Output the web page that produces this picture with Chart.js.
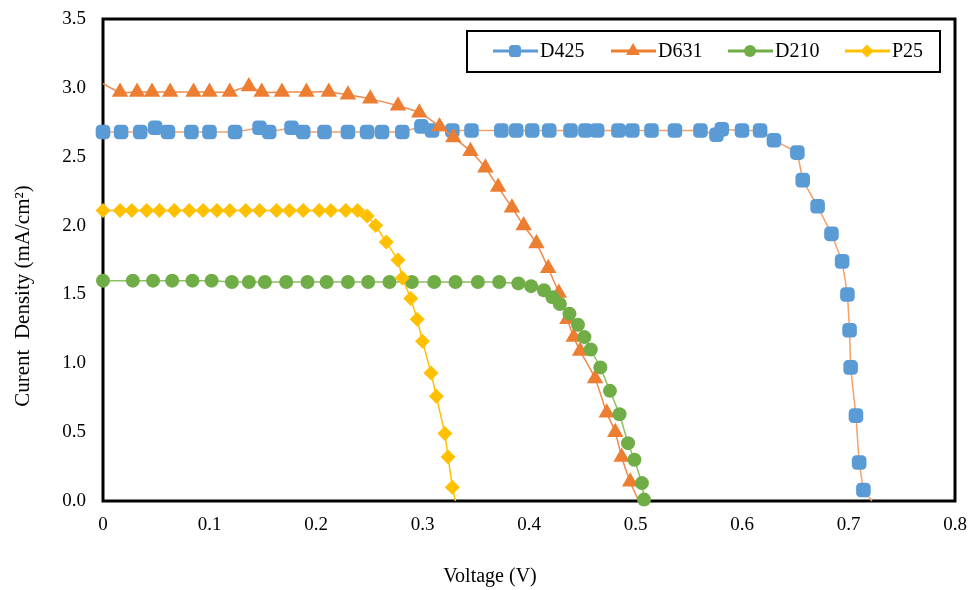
<!DOCTYPE html>
<html>
<head>
<meta charset="utf-8">
<script src="https://cdn.jsdelivr.net/npm/chart.js@4"></script>
<style>
  html, body { margin: 0; padding: 0; background: #fff; }
  #wrap { width: 968px; height: 590px; }
</style>
</head>
<body>
<div id="wrap"><canvas id="chart"></canvas></div>
<script>
// Series (x = voltage in V, y = current density in mA/cm2)
const d425X = [0, 0.017, 0.035, 0.049, 0.061, 0.083, 0.100, 0.124, 0.147, 0.156,
    0.177, 0.188, 0.208, 0.230, 0.248, 0.262, 0.281, 0.299, 0.309, 0.328,
    0.346, 0.374, 0.388, 0.403, 0.419, 0.439, 0.453, 0.464, 0.484, 0.497,
    0.515, 0.537, 0.561, 0.576, 0.581, 0.600, 0.617, 0.630, 0.652, 0.657,
    0.671, 0.684, 0.694, 0.699, 0.701, 0.702, 0.707, 0.710, 0.714, 0.722];
const d425Y = [2.68, 2.68, 2.68, 2.71, 2.68, 2.68, 2.68, 2.68, 2.71, 2.68,
    2.71, 2.68, 2.68, 2.68, 2.68, 2.68, 2.68, 2.72, 2.69, 2.69,
    2.69, 2.69, 2.69, 2.69, 2.69, 2.69, 2.69, 2.69, 2.69, 2.69,
    2.69, 2.69, 2.69, 2.66, 2.70, 2.69, 2.69, 2.62, 2.53, 2.33,
    2.14, 1.94, 1.74, 1.50, 1.24, 0.97, 0.62, 0.28, 0.08, 0];

const d631X = [0, 0.016, 0.032, 0.046, 0.063, 0.085, 0.100, 0.119, 0.137, 0.149,
    0.168, 0.191, 0.212, 0.230, 0.251, 0.277, 0.297, 0.316, 0.329, 0.345,
    0.359, 0.371, 0.384, 0.395, 0.407, 0.418, 0.428, 0.436, 0.442, 0.448,
    0.462, 0.473, 0.481, 0.487, 0.495, 0.503];
const d631Y = [3.03, 2.97, 2.97, 2.97, 2.97, 2.97, 2.97, 2.97, 3.01, 2.97,
    2.97, 2.97, 2.97, 2.95, 2.92, 2.87, 2.82, 2.72, 2.64, 2.54,
    2.42, 2.28, 2.13, 2.00, 1.87, 1.69, 1.51, 1.32, 1.19, 1.09,
    0.89, 0.64, 0.50, 0.32, 0.14, 0];

const d210X = [0, 0.028, 0.047, 0.065, 0.084, 0.102, 0.121, 0.137, 0.152, 0.172,
    0.192, 0.210, 0.230, 0.249, 0.269, 0.290, 0.311, 0.331, 0.352, 0.372,
    0.390, 0.402, 0.414, 0.422, 0.429, 0.438, 0.446, 0.452, 0.458, 0.467,
    0.476, 0.485, 0.493, 0.499, 0.506, 0.508];
const d210Y = [1.60, 1.60, 1.60, 1.60, 1.60, 1.60, 1.59, 1.59, 1.59, 1.59,
    1.59, 1.59, 1.59, 1.59, 1.59, 1.59, 1.59, 1.59, 1.59, 1.59,
    1.58, 1.56, 1.53, 1.48, 1.43, 1.36, 1.28, 1.19, 1.10, 0.97,
    0.80, 0.63, 0.42, 0.30, 0.13, 0.01];

const p25X = [0, 0.016, 0.027, 0.041, 0.053, 0.067, 0.081, 0.094, 0.107, 0.119,
    0.134, 0.147, 0.163, 0.175, 0.188, 0.203, 0.214, 0.228, 0.239, 0.248,
    0.256, 0.266, 0.277, 0.281, 0.289, 0.295, 0.300, 0.308, 0.313, 0.321,
    0.324, 0.328, 0.331];
const p25Y = [2.11, 2.11, 2.11, 2.11, 2.11, 2.11, 2.11, 2.11, 2.11, 2.11,
    2.11, 2.11, 2.11, 2.11, 2.11, 2.11, 2.11, 2.11, 2.11, 2.07,
    2.00, 1.88, 1.75, 1.62, 1.47, 1.32, 1.16, 0.93, 0.76, 0.49,
    0.32, 0.10, 0];

// points that only carry the line (no marker drawn)
const d425Hidden = [49];
const d631Hidden = [0, 35];
const d210Hidden = [];
const p25Hidden = [32];

const xTicks = [0, 0.1, 0.2, 0.3, 0.4, 0.5, 0.6, 0.7, 0.8];
const yTicks = [0, 0.5, 1.0, 1.5, 2.0, 2.5, 3.0, 3.5];

const FONT = '"Liberation Serif", "Times New Roman", serif';

function points(xs, ys) {
    return xs.map((x, i) => ({ x: x, y: ys[i] }));
}

function radii(xs, hidden, r) {
    return xs.map((x, i) => hidden.includes(i) ? 0 : r);
}

// thick black box round the plot area, under the markers
const framePlugin = {
    id: 'frame',
    beforeDatasetsDraw(chart) {
        const { ctx, chartArea: a } = chart;
        ctx.save();
        ctx.strokeStyle = '#000';
        ctx.lineWidth = 3;
        ctx.strokeRect(a.left, a.top, a.right - a.left, a.bottom - a.top);
        ctx.restore();
    }
};

// axis titles sit off-centre in the original, so draw them here
const titlePlugin = {
    id: 'titles',
    afterDraw(chart) {
        const ctx = chart.ctx;
        ctx.save();
        ctx.fillStyle = '#000';
        ctx.font = '20px ' + FONT;
        ctx.textAlign = 'center';
        ctx.textBaseline = 'middle';
        ctx.fillText('Voltage (V)', 490, 577);
        ctx.font = '21px ' + FONT;
        ctx.translate(23, 296);
        ctx.rotate(-Math.PI / 2);
        ctx.fillText('Curent  Density (mA/cm\u00B2)', 0, 0);
        ctx.restore();
    }
};

// boxed legend inside the top right of the plot
const legendPlugin = {
    id: 'boxLegend',
    afterDraw(chart) {
        const ctx = chart.ctx;
        const starts = [493, 611, 728, 845];
        const y = 51;
        ctx.save();
        ctx.fillStyle = '#fff';
        ctx.fillRect(467, 31, 473, 41);
        ctx.strokeStyle = '#000';
        ctx.lineWidth = 2;
        ctx.strokeRect(467, 31, 473, 41);
        chart.data.datasets.forEach((ds, i) => {
            const x0 = starts[i];
            ctx.strokeStyle = ds.legendColor;
            ctx.lineWidth = 3;
            ctx.beginPath();
            ctx.moveTo(x0, y);
            ctx.lineTo(x0 + 45, y);
            ctx.stroke();
            ctx.fillStyle = ds.legendColor;
            Chart.helpers.drawPoint(ctx, {
                pointStyle: ds.pointStyle,
                radius: ds.legendRadius,
                rotation: 0,
                borderWidth: 0
            }, x0 + 22, y);
            ctx.fillStyle = '#000';
            ctx.font = '20px ' + FONT;
            ctx.textAlign = 'left';
            ctx.textBaseline = 'middle';
            ctx.fillText(ds.label, x0 + 47, y + 1);
        });
        ctx.restore();
    }
};

const ctx = document.getElementById('chart');
new Chart(ctx, {
    type: 'scatter',
    data: {
        datasets: [{
            label: 'D425',
            data: points(d425X, d425Y),
            showLine: true,
            borderColor: '#F4A26A',
            borderWidth: 1.5,
            backgroundColor: '#5B9BD5',
            pointBackgroundColor: '#5B9BD5',
            pointBorderColor: '#5B9BD5',
            pointBorderWidth: 0,
            pointStyle: 'rectRounded',
            pointRadius: radii(d425X, d425Hidden, 8.5),
            legendColor: '#5B9BD5',
            legendRadius: 7,
            order: 3
        }, {
            label: 'D631',
            data: points(d631X, d631Y),
            showLine: true,
            tension: 0.3,
            borderColor: '#F08A4B',
            borderWidth: 1.5,
            backgroundColor: '#ED7D31',
            pointBackgroundColor: '#ED7D31',
            pointBorderColor: '#ED7D31',
            pointBorderWidth: 0,
            pointStyle: 'triangle',
            pointRadius: radii(d631X, d631Hidden, 9.5),
            legendColor: '#ED7D31',
            legendRadius: 8,
            order: 2
        }, {
            label: 'D210',
            data: points(d210X, d210Y),
            showLine: true,
            borderColor: '#8CC063',
            borderWidth: 1.5,
            backgroundColor: '#70AD47',
            pointBackgroundColor: '#70AD47',
            pointBorderColor: '#70AD47',
            pointBorderWidth: 0,
            pointStyle: 'circle',
            pointRadius: radii(d210X, d210Hidden, 7),
            legendColor: '#70AD47',
            legendRadius: 6,
            order: 1
        }, {
            label: 'P25',
            data: points(p25X, p25Y),
            showLine: true,
            borderColor: '#FFC000',
            borderWidth: 1.5,
            backgroundColor: '#FFC000',
            pointBackgroundColor: '#FFC000',
            pointBorderColor: '#FFC000',
            pointBorderWidth: 0,
            pointStyle: 'rectRot',
            pointRadius: radii(p25X, p25Hidden, 7.5),
            legendColor: '#FFC000',
            legendRadius: 6.5,
            order: 0
        }]
    },
    options: {
        responsive: true,
        maintainAspectRatio: false,
        animation: false,
        clip: false,
        layout: {
            padding: { left: 0, right: 13, top: 19, bottom: 0 }
        },
        plugins: {
            legend: { display: false },
            tooltip: { enabled: false }
        },
        scales: {
            x: {
                type: 'linear',
                min: 0,
                max: 0.8,
                afterBuildTicks: (scale) => {
                    scale.ticks = xTicks.map(v => ({ value: v }));
                },
                afterFit: (scale) => {
                    scale.height = 89;
                    scale.paddingLeft = 0;
                    scale.paddingRight = 0;
                },
                grid: { display: false, drawTicks: false },
                border: { display: false },
                ticks: {
                    color: '#000',
                    padding: 13,
                    maxRotation: 0,
                    font: { family: FONT, size: 19 },
                    callback: (v) => v === 0 ? '0' : v.toFixed(1)
                }
            },
            y: {
                type: 'linear',
                min: 0,
                max: 3.5,
                afterBuildTicks: (scale) => {
                    scale.ticks = yTicks.map(v => ({ value: v }));
                },
                afterFit: (scale) => {
                    scale.width = 103;
                    scale.paddingTop = 0;
                    scale.paddingBottom = 0;
                },
                grid: { display: false, drawTicks: false },
                border: { display: false },
                ticks: {
                    color: '#000',
                    padding: 17,
                    font: { family: FONT, size: 19 },
                    callback: (v) => v.toFixed(1)
                }
            }
        }
    },
    plugins: [framePlugin, titlePlugin, legendPlugin]
});
</script>
</body>
</html>
